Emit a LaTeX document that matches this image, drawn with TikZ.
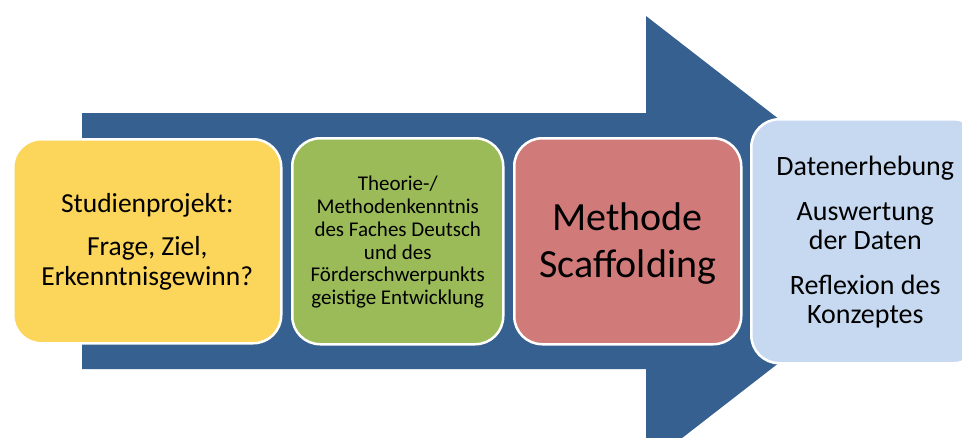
\documentclass[tikz,border=0pt]{standalone}
\usepackage{fontspec}
\setmainfont{Carlito}
\definecolor{arrowblue}{HTML}{36608F}
\definecolor{boxyellow}{HTML}{FCD55B}
\definecolor{boxgreen}{HTML}{9BBB59}
\definecolor{boxred}{HTML}{D07B79}
\definecolor{boxblue}{HTML}{C6D9F1}
\tikzset{
  stage/.style={draw=white, line width=2.5pt, rounded corners=28pt, anchor=north west, inner sep=0pt, align=center, text=black},
}
\begin{document}
\begin{tikzpicture}[x=1pt, y=-1pt]
\useasboundingbox (0,0) rectangle (962,437);
\begin{scope}
\clip (0,0) rectangle (962,437);
\fill[arrowblue] (82,113) -- (646,113) -- (646,16) -- (936,241) -- (646,466) -- (646,369) -- (82,369) -- cycle;
\node[stage, fill=boxyellow, minimum width=268pt, minimum height=204pt] (s1) at (12,138) {};
\node[stage, fill=boxgreen, minimum width=211pt, minimum height=206pt] (s2) at (291,137) {};
\node[stage, fill=boxred, minimum width=227pt, minimum height=206pt] (s3) at (513,137) {};
\node[stage, fill=boxblue, minimum width=230pt, minimum height=244pt] (s4) at (750,118) {};
\end{scope}
\node[align=center, font=\fontsize{27.5}{30}\selectfont] (t1) at ([yshift=-1pt]s1.center) {Studienprojekt:\\[13pt]Frage, Ziel,\\Erkenntnisgewinn?};
\node[align=center, font=\fontsize{21}{22.8}\selectfont] (t2) at ([yshift=-1pt]s2.center) {Theorie-/\\Methodenkenntnis\\des Faches Deutsch\\und des\\Förderschwerpunkts\\geistige Entwicklung};
\node[align=center, font=\fontsize{40}{47}\selectfont] (t3) at ([yshift=-2pt]s3.center) {Methode\\Scaffolding};
\node[align=center, font=\fontsize{28}{29.5}\selectfont] (t4) at ([xshift=-1pt,yshift=-1pt]s4.center) {Datenerhebung\\[15pt]Auswertung\\der Daten\\[15pt]Reflexion des\\Konzeptes};
\end{tikzpicture}
\end{document}
